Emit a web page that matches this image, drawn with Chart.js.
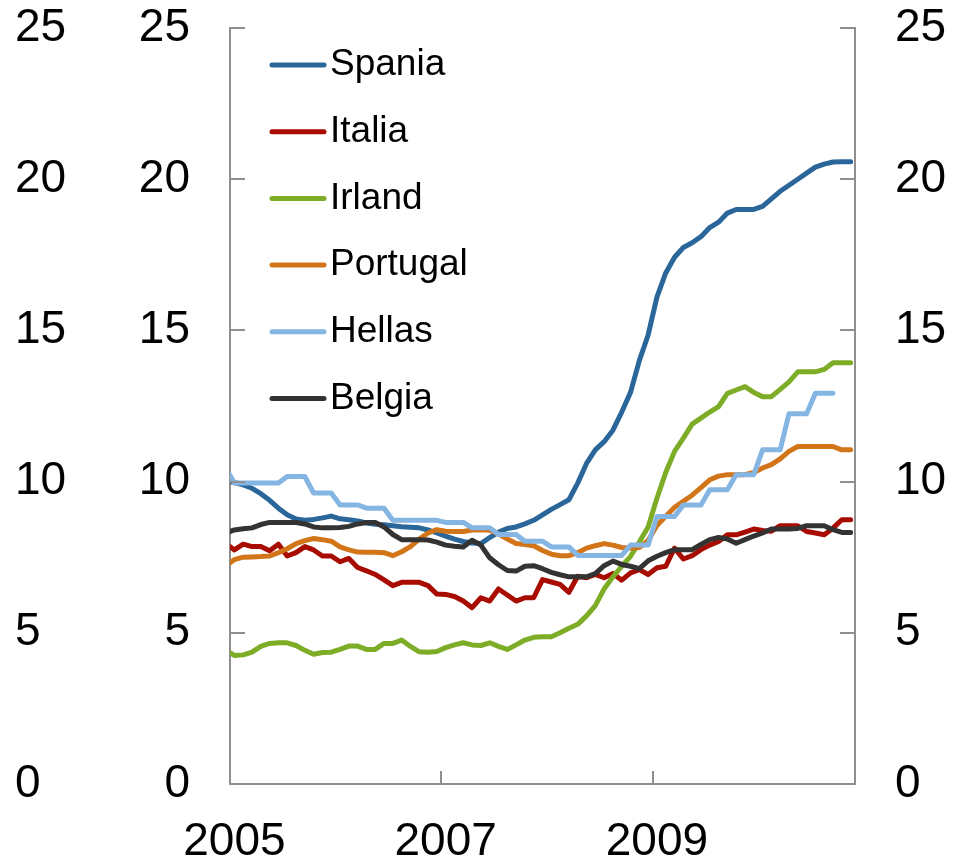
<!DOCTYPE html>
<html>
<head>
<meta charset="utf-8">
<script src="https://cdn.jsdelivr.net/npm/chart.js@4.4.0/dist/chart.umd.min.js"></script>
<style>
html,body{margin:0;padding:0;background:#ffffff;}
canvas{display:block;}
</style>
</head>
<body>
<canvas id="c" width="967" height="863"></canvas>
<script>
// Monthly categories: Dec 2004 ... Nov 2010 (values plotted at mid-month)
const monthLabels = [];
for (let k = 0; k < 72; k++) {
  const m = 11 + k;
  monthLabels.push((2004 + Math.floor(m / 12)) + '-' + String(m % 12 + 1).padStart(2, '0'));
}
const xTickMonths = ['2005-01', '2007-01', '2009-01'];
const xTickLabels = ['2005', '2007', '2009'];
const yTickMin = 0, yTickMax = 25, yTickStep = 5;

const seriesNames = ['Spania', 'Italia', 'Irland', 'Portugal', 'Hellas', 'Belgia'];
const seriesColors = ['#2a6699', '#a80c00', '#7dac26', '#d27519', '#85b5e3', '#333333'];

const spania = [10.05, 9.97, 9.89, 9.78, 9.6, 9.38, 9.12, 8.9, 8.76, 8.72,
  8.75, 8.8, 8.86, 8.77, 8.74, 8.7, 8.63, 8.59, 8.57, 8.54,
  8.51, 8.49, 8.47, 8.4, 8.3, 8.2, 8.1, 8.02, 7.97, 7.95,
  8.15, 8.33, 8.45, 8.5, 8.6, 8.72, 8.9, 9.08, 9.24, 9.4,
  9.95, 10.6, 11.05, 11.32, 11.7, 12.3, 12.95, 14.0, 14.85, 16.1,
  16.9, 17.42, 17.74, 17.9, 18.1, 18.4, 18.58, 18.88, 19.0, 19.0,
  19.0, 19.1, 19.35, 19.6, 19.8, 20.0, 20.2, 20.4, 20.5, 20.57,
  20.58, 20.58];
const italia = [7.96, 7.74, 7.93, 7.85, 7.85, 7.71, 7.93, 7.54, 7.65, 7.85,
  7.74, 7.54, 7.54, 7.35, 7.46, 7.16, 7.05, 6.93, 6.75, 6.56,
  6.67, 6.67, 6.67, 6.56, 6.28, 6.27, 6.2, 6.05, 5.83, 6.16,
  6.05, 6.45, 6.25, 6.05, 6.16, 6.16, 6.76, 6.68, 6.6, 6.34,
  6.87, 6.82, 6.93, 6.82, 6.96, 6.74, 6.98, 7.09, 6.93, 7.15,
  7.2, 7.8, 7.44, 7.55, 7.75, 7.9, 8.02, 8.24, 8.24, 8.33,
  8.43, 8.38, 8.36, 8.54, 8.54, 8.54, 8.35, 8.3, 8.24, 8.46,
  8.74, 8.74];
const irland = [4.43, 4.25, 4.27, 4.36, 4.55, 4.65, 4.67, 4.67, 4.58, 4.42,
  4.29, 4.35, 4.36, 4.45, 4.56, 4.56, 4.45, 4.45, 4.65, 4.65,
  4.76, 4.55, 4.37, 4.36, 4.38, 4.51, 4.6, 4.67, 4.6, 4.58,
  4.67, 4.55, 4.45, 4.6, 4.76, 4.85, 4.87, 4.87, 5.0, 5.15,
  5.28, 5.56, 5.9, 6.45, 6.85, 7.2, 7.53, 8.0, 8.5, 9.45,
  10.3, 11.0, 11.44, 11.9, 12.1, 12.3, 12.48, 12.92, 13.03, 13.14,
  12.95, 12.81, 12.81, 13.05, 13.3, 13.63, 13.63, 13.63, 13.71, 13.93,
  13.93, 13.93];
const portugal = [7.2, 7.42, 7.5, 7.51, 7.52, 7.54, 7.65, 7.78, 7.95, 8.05,
  8.12, 8.08, 8.03, 7.84, 7.74, 7.67, 7.66, 7.66, 7.65, 7.55,
  7.68, 7.85, 8.1, 8.3, 8.41, 8.36, 8.35, 8.35, 8.4, 8.41,
  8.39, 8.27, 8.1, 7.95, 7.92, 7.88, 7.72, 7.6, 7.55, 7.55,
  7.65, 7.8, 7.88, 7.95, 7.9, 7.82, 7.8, 7.82, 8.05, 8.55,
  8.85, 9.15, 9.35, 9.55, 9.8, 10.06, 10.18, 10.23, 10.23, 10.23,
  10.3, 10.45, 10.56, 10.75, 11.0, 11.16, 11.16, 11.16, 11.16, 11.16,
  11.05, 11.05];
const hellas = [10.45, 9.95, 9.95, 9.95, 9.95, 9.95, 9.95, 10.17, 10.17, 10.17,
  9.62, 9.62, 9.62, 9.23, 9.23, 9.23, 9.12, 9.12, 9.12, 8.72,
  8.72, 8.72, 8.72, 8.72, 8.72, 8.65, 8.65, 8.65, 8.47, 8.47,
  8.47, 8.25, 8.25, 8.25, 8.03, 8.03, 8.03, 7.84, 7.84, 7.84,
  7.56, 7.56, 7.56, 7.56, 7.56, 7.56, 7.9, 7.9, 7.9, 8.85,
  8.85, 8.85, 9.23, 9.23, 9.23, 9.73, 9.73, 9.73, 10.23, 10.23,
  10.23, 11.05, 11.05, 11.05, 12.24, 12.24, 12.24, 12.92, 12.92, 12.92,
  null, null];
const belgia = [8.3, 8.4, 8.44, 8.47, 8.58, 8.65, 8.65, 8.65, 8.65, 8.6,
  8.5, 8.47, 8.47, 8.48, 8.52, 8.6, 8.65, 8.65, 8.5, 8.25,
  8.08, 8.08, 8.08, 8.07, 8.0, 7.9, 7.86, 7.84, 8.06, 7.9,
  7.48, 7.25, 7.06, 7.04, 7.2, 7.22, 7.12, 7.0, 6.92, 6.85,
  6.85, 6.85, 6.96, 7.22, 7.37, 7.26, 7.2, 7.12, 7.38, 7.53,
  7.65, 7.75, 7.75, 7.75, 7.92, 8.08, 8.15, 8.1, 7.96, 8.08,
  8.2, 8.3, 8.43, 8.43, 8.43, 8.45, 8.54, 8.54, 8.54, 8.41,
  8.32, 8.32];

const seriesValues = [spania, italia, irland, portugal, hellas, belgia];

const FONT = '"Liberation Sans", Arial, Helvetica, sans-serif';
const axisColor = '#8f8f8f';
const tickFont = { family: FONT, size: 46, lineHeight: 1.17 };

const datasets = seriesNames.map((name, i) => ({
  label: name,
  data: seriesValues[i],
  borderColor: seriesColors[i],
  backgroundColor: seriesColors[i],
  borderWidth: 5,
  pointRadius: 0,
  pointHoverRadius: 0,
  tension: 0,
  fill: false,
  clip: 0,
  borderJoinStyle: 'round',
  borderCapStyle: 'round',
  order: seriesNames.length - 1 - i,
  yAxisID: 'y'
}));

const decorPlugin = {
  id: 'decor',
  afterDraw(chart) {
    const ctx = chart.ctx;
    const a = chart.chartArea;
    const ys = chart.scales.y;
    const xs = chart.scales.x;
    ctx.save();
    // inward tick marks
    ctx.strokeStyle = axisColor;
    ctx.lineWidth = 2;
    ctx.beginPath();
    ys.ticks.forEach(t => {
      const p = Math.round(ys.getPixelForValue(t.value));
      ctx.moveTo(a.left, p); ctx.lineTo(a.left + 15, p);
      ctx.moveTo(a.right - 15, p); ctx.lineTo(a.right, p);
    });
    xs.ticks.forEach(t => {
      const p = Math.round(xs.getPixelForValue(t.value - 0.5));
      ctx.moveTo(p, a.bottom); ctx.lineTo(p, a.bottom - 13);
    });
    ctx.stroke();
    // legend inside plot area
    const lx = a.left + 42, ly = a.top + 37, pitch = 66.7;
    chart.data.datasets.forEach((ds, i) => {
      const y = ly + i * pitch;
      ctx.strokeStyle = ds.borderColor;
      ctx.lineWidth = 5;
      ctx.lineCap = 'round';
      ctx.beginPath();
      ctx.moveTo(lx, y);
      ctx.lineTo(lx + 52, y);
      ctx.stroke();
      ctx.fillStyle = '#000000';
      ctx.font = '37px ' + FONT;
      ctx.textBaseline = 'middle';
      ctx.textAlign = 'left';
      ctx.fillText(ds.label, lx + 58, y);
    });
    ctx.restore();
  }
};

const yCommon = (extra) => Object.assign({
  type: 'linear',
  min: yTickMin,
  max: yTickMax,
  grid: { display: false, drawTicks: false },
}, extra);

new Chart(document.getElementById('c'), {
  type: 'line',
  data: { labels: monthLabels, datasets: datasets },
  options: {
    responsive: false,
    animation: false,
    devicePixelRatio: 1,
    layout: { padding: { top: 28, left: 15, right: 0, bottom: 0 } },
    plugins: { legend: { display: false }, tooltip: { enabled: false } },
    scales: {
      x: {
        type: 'category',
        min: monthLabels[1],
        max: monthLabels[71],
        offset: true,
        grid: { display: false, drawTicks: false },
        border: { display: true, color: axisColor, width: 2 },
        ticks: {
          autoSkip: false, maxRotation: 0, minRotation: 0, padding: 31,
          color: '#000000', font: tickFont,
          callback: (v) => {
            const j = xTickMonths.indexOf(monthLabels[v]);
            return j >= 0 ? xTickLabels[j] : '';
          }
        },
        afterBuildTicks: (s) => { s.ticks = s.ticks.filter(t => xTickMonths.includes(monthLabels[t.value])); },
        afterFit: (s) => { s.height = 79; s.paddingLeft = 0; s.paddingRight = 0; }
      },
      y: yCommon({
        position: 'left', weight: 0,
        border: { display: true, color: axisColor, width: 2 },
        ticks: { stepSize: yTickStep, padding: 40, crossAlign: 'near', color: '#000000', font: tickFont },
        afterFit: (s) => { s.width = 115; s.paddingTop = 0; s.paddingBottom = 0; }
      }),
      yOuter: yCommon({
        position: 'left', weight: 1,
        border: { display: false },
        ticks: { stepSize: yTickStep, padding: 0, crossAlign: 'far', color: '#000000', font: tickFont },
        afterFit: (s) => { s.width = 100; s.paddingTop = 0; s.paddingBottom = 0; }
      }),
      yRight: yCommon({
        position: 'right',
        border: { display: true, color: axisColor, width: 2 },
        ticks: { stepSize: yTickStep, padding: 40, color: '#000000', font: tickFont },
        afterFit: (s) => { s.width = 112; s.paddingTop = 0; s.paddingBottom = 0; }
      })
    }
  },
  plugins: [decorPlugin]
});
</script>
</body>
</html>
